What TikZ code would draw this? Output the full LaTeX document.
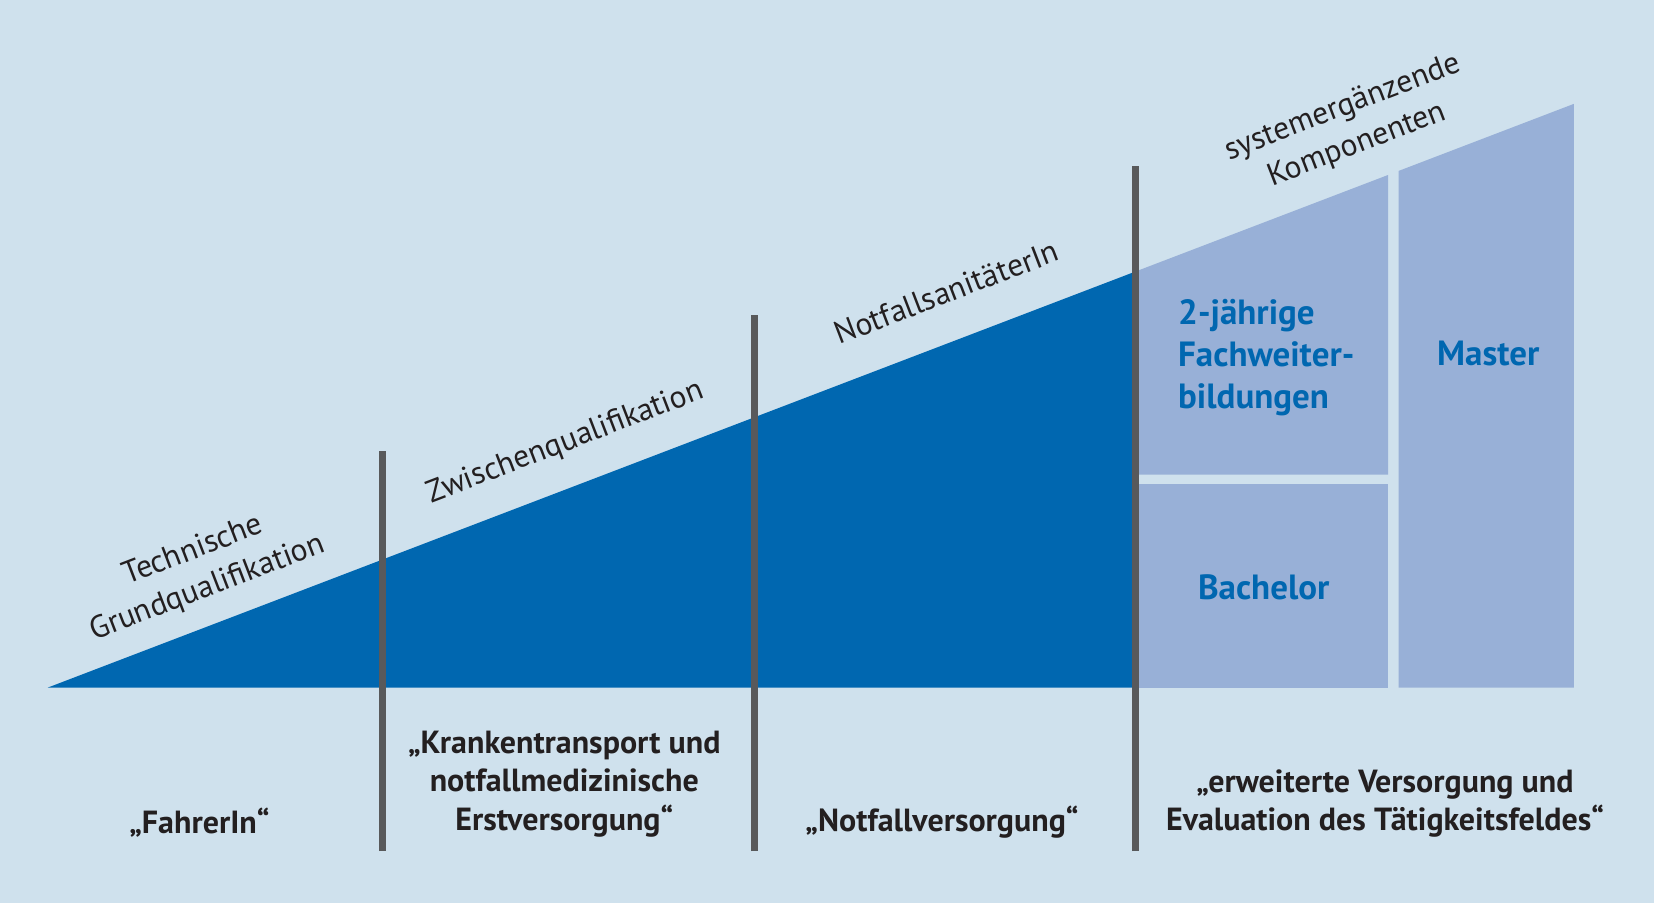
\documentclass[tikz,border=0pt]{standalone}
\usepackage{fontspec}
\setmainfont{PT Sans}
\definecolor{bg}{HTML}{CFE1ED}
\definecolor{dkblue}{HTML}{0067B0}
\definecolor{ltblue}{HTML}{98B0D7}
\definecolor{barcol}{HTML}{58595B}
\definecolor{txt}{HTML}{231F20}
\tikzset{
  slant/.style={rotate=21, align=center, text=txt, font=\fontsize{31.5}{40}\selectfont, inner sep=0pt},
  bottomlbl/.style={align=center, text=txt, font=\bfseries\fontsize{32}{38.5}\selectfont, inner sep=0pt},
  bluelbl/.style={text=dkblue, font=\bfseries\fontsize{35}{42}\selectfont, inner sep=0pt},
  bar/.style={barcol, line width=7pt},
}
\begin{document}
\begin{tikzpicture}[x=1pt,y=1pt]
\fill[bg] (0,0) rectangle (1654,903);
\useasboundingbox (0,0) rectangle (1654,903);
% dark triangle
\fill[dkblue] (47.5,215.3) -- (1134,215.3) -- (1134,630.9) -- cycle;
% light blocks
\fill[ltblue] (1134,428.3) -- (1388,428.3) -- (1388,728.0) -- (1134,630.9) -- cycle;
\fill[ltblue] (1134,215.3) rectangle (1388,418.8);
\fill[ltblue] (1398.7,215.3) -- (1573.8,215.3) -- (1573.8,799.1) -- (1398.7,732.1) -- cycle;
% bars
\coordinate (b1a) at (382.9,51.8); \coordinate (b1b) at (382.9,451.5);
\coordinate (b2a) at (754.2,51.8); \coordinate (b2b) at (754.2,587.6);
\coordinate (b3a) at (1135,51.8); \coordinate (b3b) at (1135,737.4);
\draw[bar] (b1a) -- (b1b);
\draw[bar] (b2a) -- (b2b);
\draw[bar] (b3a) -- (b3b);
% slanted labels
\node[slant] (tech) at (200.4,333.4) {Technische\\Grundqualifikation};
\node[slant] (zwi) at (565.4,460) {Zwischenqualifikation};
\node[slant] (nfs) at (946,611) {NotfallsanitäterIn};
\node[slant] (sys) at (1350,776.4) {systemergänzende\\Komponenten};
% blue labels
\node[bluelbl, align=left, anchor=west] (fach) at (1178,545.5) {2-jährige\\Fachweiter-\\bildungen};
\node[bluelbl] (master) at (1488.3,549.6) {Master};
\node[bluelbl] (bach) at (1263.7,315.5) {Bachelor};
% bottom labels
\node[bottomlbl] (fahr) at (199.4,80.4) {„FahrerIn“};
\node[bottomlbl] (kt) at (564.3,119) {„Krankentransport und\\notfallmedizinische\\Erstversorgung“};
\node[bottomlbl] (nv) at (942,80.4) {„Notfallversorgung“};
\node[bottomlbl] (ev) at (1385,99.4) {„erweiterte Versorgung und\\Evaluation des Tätigkeitsfeldes“};
\end{tikzpicture}
\end{document}
